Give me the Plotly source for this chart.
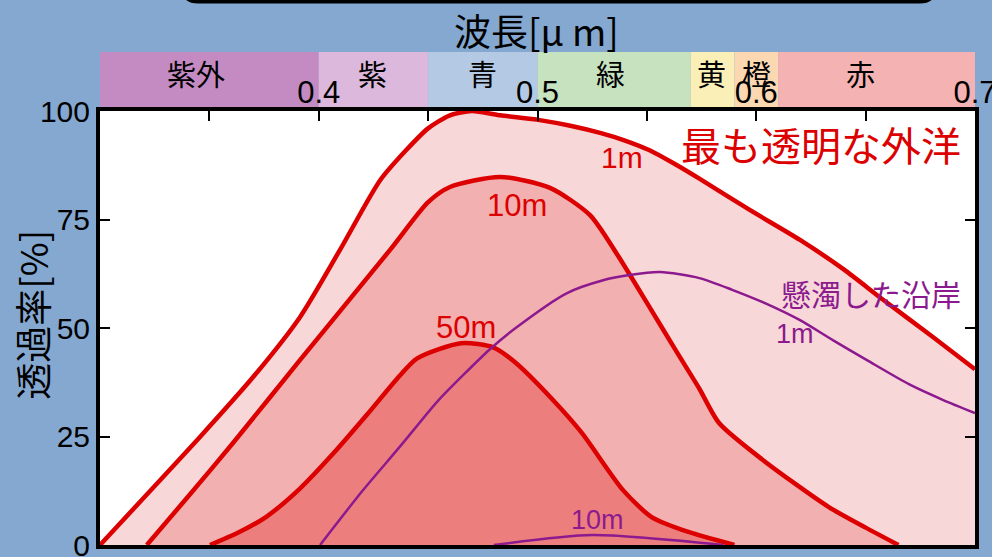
import plotly.graph_objects as go

# ---- data ----
ocean_1m_x = [0.300, 0.323, 0.3457, 0.370, 0.3914, 0.4097, 0.428, 0.440, 0.450, 0.460, 0.470, 0.483, 0.501, 0.515, 0.529, 0.540, 0.551, 0.562, 0.574, 0.597, 0.620, 0.640, 0.658, 0.680, 0.700]
ocean_1m_y = [0.0, 12.5, 24.9, 38.7, 52.5, 68.0, 84.0, 91.0, 96.0, 99.0, 100.0, 99.0, 97.9, 96.6, 94.9, 93.2, 91.0, 88.0, 84.4, 77.2, 70.3, 63.5, 56.5, 48.2, 40.5]

ocean_10m_x = [0.3214, 0.340, 0.3608, 0.3914, 0.4326, 0.450, 0.460, 0.4829, 0.5057, 0.524, 0.536, 0.551, 0.563, 0.574, 0.583, 0.603, 0.633, 0.650, 0.665]
ocean_10m_y = [0.0, 11.0, 23.5, 42.6, 68.0, 79.0, 82.5, 84.8, 82.3, 76.0, 67.3, 55.0, 45.0, 36.0, 28.1, 19.6, 8.8, 4.0, 0.0]

ocean_50m_x = [0.3503, 0.363, 0.376, 0.3914, 0.4065, 0.422, 0.437, 0.445, 0.465, 0.480, 0.490, 0.506, 0.520, 0.539, 0.552, 0.569, 0.590]
ocean_50m_y = [0.0, 2.8, 6.5, 13.0, 21.0, 30.0, 39.0, 43.0, 46.5, 45.5, 42.0, 34.0, 26.0, 12.7, 6.5, 3.0, 0.0]

coast_1m_x = [0.4006, 0.420, 0.437, 0.4458, 0.455, 0.478, 0.490, 0.5133, 0.530, 0.542, 0.556, 0.574, 0.589, 0.605, 0.620, 0.635, 0.6506, 0.670, 0.6855, 0.700]
coast_1m_y = [0.0, 12.5, 22.6, 28.0, 33.5, 45.0, 50.0, 58.0, 61.0, 62.2, 62.9, 61.5, 58.8, 55.5, 51.8, 47.2, 42.6, 37.0, 33.4, 30.4]

coast_10m_x = [0.480, 0.525, 0.585]
coast_10m_y = [0.0, 2.3, 0.0]

band_names = ["紫外", "紫", "青", "緑", "黄", "橙", "赤"]
band_edges = [0.30, 0.40, 0.45, 0.50, 0.57, 0.59, 0.61, 0.70]
band_label_x = [0.344, 0.4245, 0.475, 0.5335, 0.5795, 0.600, 0.6475]
band_colors = ["#c48bc2", "#dcb8dc", "#b4cae4", "#c7e2bf", "#fbefb8", "#fcd8b2", "#f4b2b2"]

x_tickvals = [0.4, 0.5, 0.6, 0.7]
x_ticktext = ["0.4", "0.5", "0.6", "0.7"]
y_tickvals = [0, 25, 50, 75, 100]
y_ticktext = ["0", "25", "50", "75", "100"]

RED = "#dc0000"
PURPLE = "#8c1a8e"
BG = "#84a8d0"
NUM_FONT = "Liberation Sans, Arial, sans-serif"
JP_FONT = "Noto Sans CJK JP, sans-serif"

fig = go.Figure()

for xs, ys, fc in [(ocean_1m_x, ocean_1m_y, "#f8d7d9"),
                   (ocean_10m_x, ocean_10m_y, "#f2b0b0"),
                   (ocean_50m_x, ocean_50m_y, "#ec7f7d")]:
    fig.add_trace(go.Scatter(x=xs, y=ys, mode="lines", fill="tozeroy", fillcolor=fc,
                             line=dict(color=RED, width=4.5, shape="spline", smoothing=0.7),
                             hoverinfo="skip", showlegend=False))

for xs, ys in [(coast_1m_x, coast_1m_y), (coast_10m_x, coast_10m_y)]:
    fig.add_trace(go.Scatter(x=xs, y=ys, mode="lines",
                             line=dict(color=PURPLE, width=2.5, shape="spline", smoothing=0.7),
                             hoverinfo="skip", showlegend=False))

shapes = []
for i, c in enumerate(band_colors):
    shapes.append(dict(type="rect", xref="x", yref="paper", x0=band_edges[i], x1=band_edges[i + 1],
                       y0=1.0, y1=1.136, fillcolor=c, line=dict(width=0), layer="below"))
# rounded black frame at the very top (partly off-page)
shapes.append(dict(type="path", xref="paper", yref="paper",
                   path="M 0.0949,1.32 L 0.0949,1.287 Q 0.0949,1.2523 0.1120,1.2523 "
                        "L 0.9370,1.2523 Q 0.9540,1.2523 0.9540,1.287 L 0.9540,1.32",
                   line=dict(color="black", width=4)))


def ann(x, y, text, size, color="black", font=JP_FONT, xref="x", yref="y", xanchor="center", angle=0):
    return dict(x=x, y=y, xref=xref, yref=yref, text=text, showarrow=False,
                xanchor=xanchor, yanchor="middle", textangle=angle,
                font=dict(family=font, size=size, color=color))


annotations = [ann(lx, 1.0876, name, 29, yref="paper") for name, lx in zip(band_names, band_label_x)]
annotations += [
    ann(0.4994, 1.187, "波長[μ m]", 37, xref="paper", yref="paper"),
    ann(-0.078, 0.53, "透過率[%]", 37, xref="paper", yref="paper", angle=-90),
    ann(0.986, 0.923, "最も透明な外洋", 40, color=RED, xref="paper", yref="paper", xanchor="right"),
    ann(0.5385, 89.2, "1m", 30, color=RED, font=NUM_FONT),
    ann(0.4906, 78.3, "10m", 31, color=RED, font=NUM_FONT),
    ann(0.4673, 50.2, "50m", 31, color=RED, font=NUM_FONT),
    ann(0.986, 0.58, "懸濁した沿岸", 30, color=PURPLE, xref="paper", yref="paper", xanchor="right"),
    ann(0.6177, 48.6, "1m", 27, color=PURPLE, font=NUM_FONT),
    ann(0.5272, 5.8, "10m", 27, color=PURPLE, font=NUM_FONT),
]

fig.update_layout(
    width=992, height=557,
    margin=dict(l=100, r=17, t=111, b=12, autoexpand=False),
    paper_bgcolor=BG, plot_bgcolor="white",
    shapes=shapes, annotations=annotations,
    xaxis=dict(range=[0.3, 0.7], side="top", tickvals=x_tickvals, ticktext=x_ticktext,
               ticks="inside", ticklen=10, tickwidth=2, tickcolor="black",
               minor=dict(tickvals=[0.35, 0.45, 0.55, 0.65], ticks="inside", ticklen=10, tickwidth=2, tickcolor="black"),
               showline=True, linecolor="black", linewidth=4, mirror=True, showgrid=False, zeroline=False,
               tickfont=dict(family=NUM_FONT, size=31, color="black"), ticklabelstandoff=-8,
               ticklabeloverflow="allow", automargin=False),
    yaxis=dict(range=[0, 100], tickvals=y_tickvals, ticktext=y_ticktext,
               ticks="inside", ticklen=10, tickwidth=2, tickcolor="black",
               showline=True, linecolor="black", linewidth=4, mirror="ticks", showgrid=False, zeroline=False,
               tickfont=dict(family=NUM_FONT, size=30, color="black"), ticklabeloverflow="allow",
               automargin=False),
)

# remove the browser's default page margin so the figure fills the window exactly
fig.write_html("out.html", config={"displayModeBar": False},
               post_script="document.body.style.margin='0';document.body.style.overflow='hidden';")
